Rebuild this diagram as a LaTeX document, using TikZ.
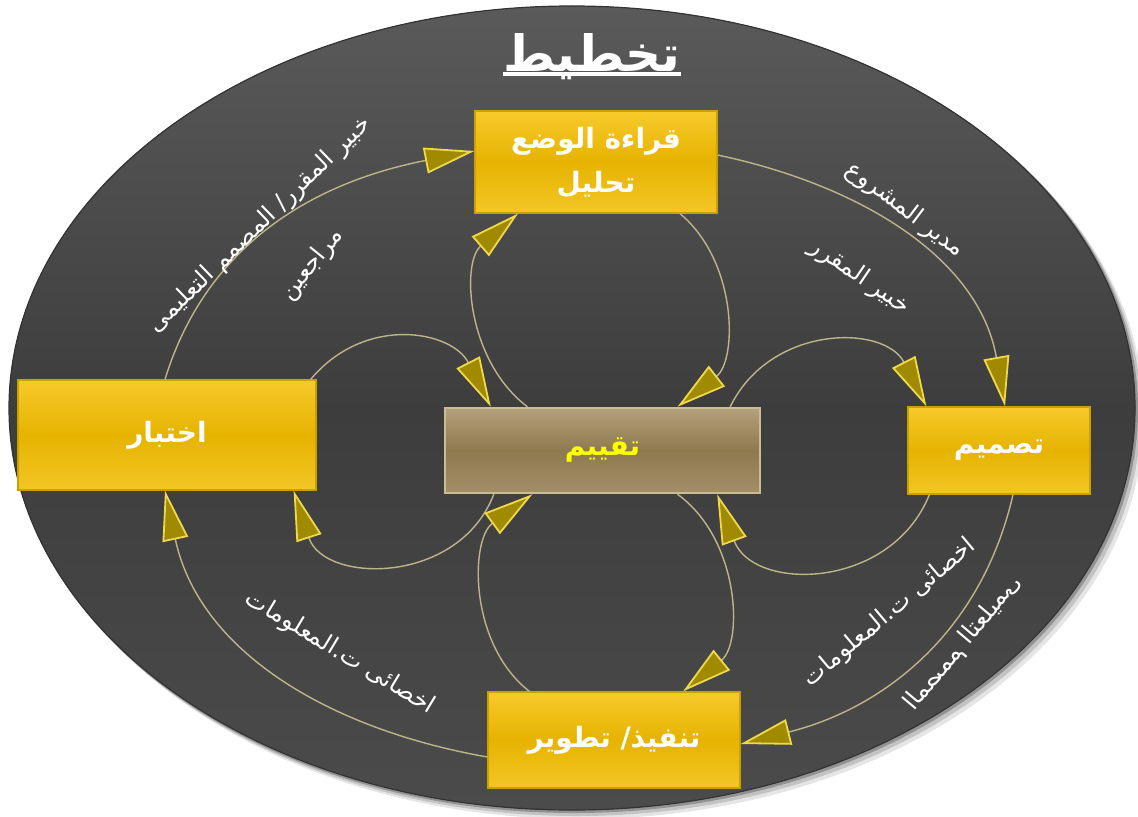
\documentclass[tikz,border=0pt]{standalone}
\usepackage{fontspec}
\newfontfamily\arabicfont[Script=Arabic]{DejaVu Sans}
\TeXXeTstate=1
\usetikzlibrary{calc,arrows.meta}

\newcommand{\artext}[1]{{\arabicfont\beginR #1\endR}}

\definecolor{bgtop}{HTML}{5A5A5A}
\definecolor{bgmid}{HTML}{3D3D3D}
\definecolor{bgbot}{HTML}{4B4B4B}
\definecolor{boxtop}{HTML}{F7CA2C}
\definecolor{boxmid}{HTML}{E6B300}
\definecolor{boxbot}{HTML}{F3C626}
\definecolor{boxedge}{HTML}{C9A200}
\definecolor{evaltop}{HTML}{B4A17B}
\definecolor{evalmid}{HTML}{8E7A4F}
\definecolor{evalbot}{HTML}{A28F68}
\definecolor{evaledge}{HTML}{CBBD92}
\definecolor{linecol}{HTML}{BDB58A}
\definecolor{tipfill}{HTML}{A08A00}
\definecolor{tipedge}{HTML}{F0D84A}
\definecolor{evaltext}{HTML}{FFFF00}

\tikzset{
  stagebox/.style={draw=boxedge, line width=0.6pt,
    top color=boxtop, bottom color=boxbot, middle color=boxmid,
    text=white, inner sep=0pt, align=center,
    font=\arabicfont\bfseries\fontsize{14}{22}\selectfont},
  evalbox/.style={draw=evaledge, line width=1.2pt,
    top color=evaltop, bottom color=evalbot, middle color=evalmid,
    text=evaltext, inner sep=0pt,
    font=\arabicfont\bfseries\fontsize{14}{17}\selectfont},
  role/.style={text=white, inner sep=0pt,
    font=\arabicfont\fontsize{12}{14}\selectfont},
  flow/.style={draw=linecol, line width=0.7pt,
    -{Triangle[length=25pt,width=13pt,color=tipedge,fill=tipfill,line width=0.9pt]}},
}

\begin{document}
\begin{tikzpicture}[x=0.5pt,y=0.5pt]
    \useasboundingbox (0,0) rectangle (1138,816);

    % background ellipse with a soft shadow
    \foreach \s/\o in {8/0.10,5/0.15,2/0.25} {
      \fill[black, opacity=\o] (572+\s,408-\s) ellipse [x radius=564, y radius=403];
    }
    \fill[top color=bgtop, bottom color=bgbot, middle color=bgmid, draw=black!80, line width=0.6pt]
      (572,408) ellipse [x radius=563, y radius=402];

    \node[anchor=base, text=white, inner sep=0pt,
          font=\arabicfont\bfseries\fontsize{25}{28}\selectfont] (title) at (592,744) {\artext{تخطيط}};
    \draw[white, line width=2pt] ([yshift=-1pt]title.base west) -- ([yshift=-1pt]title.base east);

    % stages
    \node[stagebox, minimum width=121pt, minimum height=51pt] (plan)   at (596,654)   {\artext{قراءة الوضع}\\\artext{تحليل}};
    \node[stagebox, minimum width=91pt,  minimum height=43.5pt] (design) at (999,365.5) {\artext{تصميم}};
    \node[stagebox, minimum width=149pt, minimum height=55pt] (test)   at (167,381)   {\artext{اختبار}};
    \node[stagebox, minimum width=126pt, minimum height=48pt] (build)  at (614,76)    {\artext{تنفيذ/ تطوير}};
    \node[evalbox,  minimum width=157.5pt, minimum height=42.5pt] (eval) at (602.5,365.5) {\artext{تقييم}};

    % outer cycle
    \path ($(plan.east)+(0,7)$)      edge[flow,out=-12,in=100]  ($(design.north)+(6,0)$)
          ($(design.south)+(14,0)$)  edge[flow,out=-103,in=14]  ($(build.east)+(0,-4)$)
          ($(build.west)+(0,-17)$)   edge[flow,out=170,in=-78]  ($(test.south)+(-2,0)$)
          ($(test.north)+(-2,0)$)    edge[flow,out=73,in=-169]  ($(plan.west)+(0,11)$);

    % loops through the evaluation
    \path ($(eval.north)+(-75,0)$)        edge[flow,out=143,in=221]                 ($(plan.south)+(-78,0)$)
          ($(plan.south)+(84,0)$)         edge[flow,out=-40,in=38]                  ($(eval.north)+(75,0)$)
          ($(eval.north east)+(-31,0)$)   edge[flow,out=64,in=117,looseness=1.2]    ($(design.north west)+(19,0)$)
          ($(design.south west)+(22,0)$)  edge[flow,out=-112,in=-70,looseness=1.25] ($(eval.south east)+(-44,0)$)
          ($(test.north east)+(-6,0)$)    edge[flow,out=50,in=117,looseness=1.2]    ($(eval.north west)+(47,0)$)
          ($(eval.south west)+(50,0)$)    edge[flow,out=-111,in=-72,looseness=1.25] ($(test.south east)+(-23,0)$)
          ($(build.north west)+(42,0)$)   edge[flow,out=142,in=216]                 ($(eval.south)+(-70,0)$)
          ($(eval.south)+(75,0)$)         edge[flow,out=-36,in=39]                  ($(build.north)+(69,0)$);

    % roles
    \node[role, rotate=44]  (expert)    at (260,591) {\artext{خبير المقرر/ المصمم التعليمى}};
    \node[role, rotate=51]  (reviewers) at (312,551) {\artext{مراجعين}};
    \node[role, rotate=-37] (manager)   at (905,606) {\artext{مدير المشروع}};
    \node[role, rotate=-34] (courseexp) at (860,539) {\artext{خبير المقرر}};
    \node[role, rotate=40]  (itright)   at (890,203) {\artext{اخصائى ت.المعلومات}};
    \node[role, rotate=50, xscale=-1] (designer) at (963,173) {\artext{المصمم التعليمى}};
    \node[role, rotate=-31] (itleft)    at (340,163) {\artext{اخصائى ت.المعلومات}};
\end{tikzpicture}
\end{document}
